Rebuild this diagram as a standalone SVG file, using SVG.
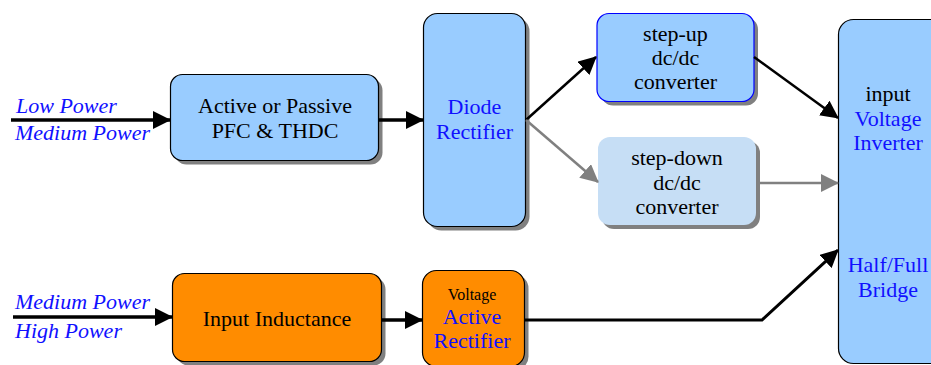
<svg xmlns="http://www.w3.org/2000/svg" width="931" height="365" viewBox="0 0 931 365">
<style>
text{font-family:'Liberation Serif','DejaVu Serif','Times New Roman',serif;font-size:22px;text-anchor:middle;fill:#000}
.b{fill:#1010ff}
.lbl{font-style:italic;text-anchor:start;fill:#1010ff}
.sh{fill:#808080}
.box{fill:#99ccff;stroke:#000;stroke-width:1.2}
.org{fill:#ff8c00;stroke:#000;stroke-width:1.2}
.k{stroke:#000;fill:none}
.g{stroke:#808080;fill:none;stroke-width:2.5}
</style>
<defs>
<marker id="ak" markerUnits="userSpaceOnUse" markerWidth="18" markerHeight="18" refX="17" refY="9" orient="auto" viewBox="0 0 18 18"><path d="M0,0 L18,9 L0,18 Z" fill="#000"/></marker>
<marker id="ag" markerUnits="userSpaceOnUse" markerWidth="18" markerHeight="18" refX="17" refY="9" orient="auto" viewBox="0 0 18 18"><path d="M0,0 L18,9 L0,18 Z" fill="#808080"/></marker>
</defs>
<rect width="931" height="365" fill="#fff"/>
<g id="labels">
<text class="lbl" x="16" y="113">Low Power</text>
<text class="lbl" x="15" y="140">Medium Power</text>
<text class="lbl" x="15" y="309">Medium Power</text>
<text class="lbl" x="15" y="338">High Power</text>
</g>
<g id="pfc">
<rect class="sh" x="174.5" y="78.5" width="208" height="86" rx="12"/>
<rect class="box" x="170.5" y="74.5" width="208" height="86" rx="12"/>
<text x="275" y="113">Active or Passive</text>
<text x="275" y="138">PFC &amp; THDC</text>
</g>
<g id="diode">
<rect class="sh" x="427.5" y="17.5" width="102" height="213" rx="14"/>
<rect class="box" x="423.5" y="13.5" width="102" height="213" rx="14"/>
<text class="b" x="474.5" y="114">Diode</text>
<text class="b" x="474.5" y="139">Rectifier</text>
</g>
<g id="stepup">
<rect class="sh" x="601" y="17.5" width="157" height="88" rx="12"/>
<rect x="597" y="13.5" width="157" height="88" rx="12" fill="#99ccff" stroke="#0000ff" stroke-width="1.2"/>
<text x="675.5" y="41">step-up</text>
<text x="675.5" y="65">dc/dc</text>
<text x="675.5" y="89">converter</text>
</g>
<g id="stepdown">
<rect class="sh" x="602" y="141" width="158" height="88" rx="12"/>
<rect x="598" y="137" width="158" height="88" rx="12" fill="#c6def5"/>
<text x="677" y="165">step-down</text>
<text x="677" y="190">dc/dc</text>
<text x="677" y="214">converter</text>
</g>
<g id="inverter">
<rect class="box" x="838.5" y="19.5" width="120" height="344" rx="15"/>
<text x="888" y="101">input</text>
<text class="b" x="888" y="126">Voltage</text>
<text class="b" x="888" y="150">Inverter</text>
<text class="b" x="888" y="272">Half/Full</text>
<text class="b" x="888" y="297">Bridge</text>
</g>
<g id="inductance">
<rect class="sh" x="176.5" y="277.5" width="209" height="88" rx="12"/>
<rect class="org" x="172.5" y="273.5" width="209" height="88" rx="12"/>
<text x="277" y="326">Input Inductance</text>
</g>
<g id="activerect">
<rect class="sh" x="426.5" y="274.5" width="102" height="96" rx="14"/>
<rect class="org" x="422.5" y="270.5" width="102" height="96" rx="14"/>
<text x="472" y="300" style="font-size:16px">Voltage</text>
<text class="b" x="472" y="324">Active</text>
<text class="b" x="472" y="348">Rectifier</text>
</g>
<g id="connectors">
<line class="k" x1="11" y1="120" x2="170" y2="120" stroke-width="3.5" marker-end="url(#ak)"/>
<line class="k" x1="378" y1="120" x2="423" y2="120" stroke-width="3.5" marker-end="url(#ak)"/>
<line class="k" x1="526" y1="120" x2="596" y2="57" stroke-width="2.5" marker-end="url(#ak)"/>
<line class="g" x1="526" y1="120" x2="598" y2="182" marker-end="url(#ag)"/>
<line class="k" x1="754" y1="57" x2="838" y2="118" stroke-width="2.5" marker-end="url(#ak)"/>
<line class="g" x1="757" y1="183" x2="838" y2="183" marker-end="url(#ag)"/>
<line class="k" x1="13" y1="317" x2="172" y2="317" stroke-width="3.5" marker-end="url(#ak)"/>
<line class="k" x1="381" y1="320" x2="422" y2="320" stroke-width="3.5" marker-end="url(#ak)"/>
<polyline class="k" points="525,320 762,320 838,250" stroke-width="3" marker-end="url(#ak)"/>
</g>
</svg>
